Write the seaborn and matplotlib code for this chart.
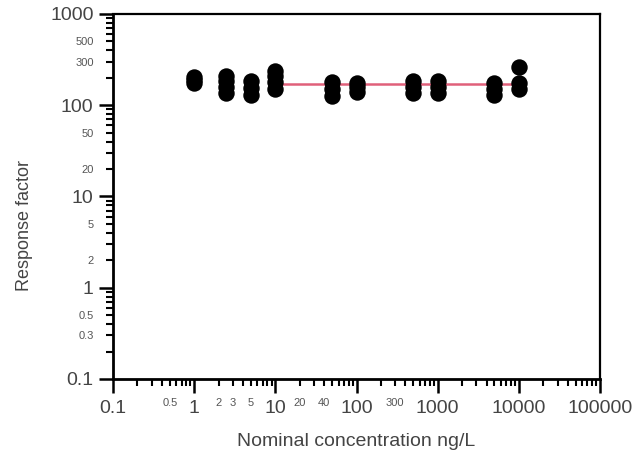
import numpy as np
import pandas as pd
import matplotlib
matplotlib.use("Agg")
import matplotlib.pyplot as plt
import matplotlib.ticker as mticker
import seaborn as sns

# Replicate response factors at each nominal concentration (ng/L)
conc_1 = [1, 1, 1]
rf_1 = [175, 190, 205]
conc_2_5 = [2.5, 2.5, 2.5, 2.5]
rf_2_5 = [135, 160, 185, 210]
conc_5 = [5, 5, 5]
rf_5 = [130, 155, 185]
conc_10 = [10, 10, 10, 10]
rf_10 = [150, 180, 210, 235]
conc_50 = [50, 50, 50]
rf_50 = [125, 150, 180]
conc_100 = [100, 100, 100]
rf_100 = [140, 160, 175]
conc_500 = [500, 500, 500]
rf_500 = [135, 160, 185]
conc_1000 = [1000, 1000, 1000]
rf_1000 = [135, 160, 185]
conc_5000 = [5000, 5000, 5000]
rf_5000 = [130, 150, 175]
conc_10000 = [10000, 10000, 10000]
rf_10000 = [150, 175, 265]

# Mean response factor over the calibration range
mean_range = [10, 10000]
mean_rf = [170, 170]

x_major = [0.1, 1, 10, 100, 1000, 10000, 100000]
x_minor_labels = {0.5: "0.5", 2: "2", 3: "3", 5: "5", 20: "20", 40: "40", 300: "300"}
y_major = [0.1, 1, 10, 100, 1000]
y_minor_labels = {0.3: "0.3", 0.5: "0.5", 2: "2", 5: "5", 20: "20", 50: "50", 300: "300", 500: "500"}

conc = (conc_1 + conc_2_5 + conc_5 + conc_10 + conc_50 + conc_100
        + conc_500 + conc_1000 + conc_5000 + conc_10000)
rf = (rf_1 + rf_2_5 + rf_5 + rf_10 + rf_50 + rf_100
      + rf_500 + rf_1000 + rf_5000 + rf_10000)
df = pd.DataFrame({"conc": conc, "rf": rf})
line_df = pd.DataFrame({"conc": mean_range, "rf": mean_rf})

sns.set_theme(style="white")
plt.rcParams["font.family"] = ["Liberation Sans", "DejaVu Sans"]

fig = plt.figure(figsize=(6.4, 4.66), dpi=100)
ax = fig.add_axes([0.1766, 0.1867, 0.7609, 0.7833])

ax.set_xscale("log")
ax.set_yscale("log")

sns.lineplot(data=line_df, x="conc", y="rf", ax=ax, color="#e0607a",
             linewidth=1.8, zorder=2)
sns.scatterplot(data=df, x="conc", y="rf", ax=ax, color="black",
                s=140, linewidth=0, zorder=3)

ax.set_xlim(0.1, 100000)
ax.set_ylim(0.1, 1000)

def fmt(v):
    return ("%g" % v)

ax.xaxis.set_major_locator(mticker.FixedLocator(x_major))
ax.xaxis.set_major_formatter(mticker.FixedFormatter([fmt(v) for v in x_major]))
xm = [d * k for d in [0.1, 1, 10, 100, 1000, 10000] for k in range(2, 10)]
ax.xaxis.set_minor_locator(mticker.FixedLocator(xm))
ax.xaxis.set_minor_formatter(mticker.FixedFormatter(
    [x_minor_labels.get(round(v, 6), "") for v in xm]))

ax.yaxis.set_major_locator(mticker.FixedLocator(y_major))
ax.yaxis.set_major_formatter(mticker.FixedFormatter([fmt(v) for v in y_major]))
ym = [d * k for d in [0.1, 1, 10, 100] for k in range(2, 10)]
ax.yaxis.set_minor_locator(mticker.FixedLocator(ym))
ax.yaxis.set_minor_formatter(mticker.FixedFormatter(
    [y_minor_labels.get(round(v, 6), "") for v in ym]))

for s in ["left", "bottom", "top", "right"]:
    ax.spines[s].set_visible(True)
    ax.spines[s].set_color("black")
ax.spines["left"].set_linewidth(2.0)
ax.spines["bottom"].set_linewidth(2.0)
ax.spines["top"].set_linewidth(1.6)
ax.spines["right"].set_linewidth(1.6)

ax.tick_params(axis="both", which="major", direction="out", length=10,
               width=1.8, color="black", labelsize=14, labelcolor="#444444",
               bottom=True, left=True)
ax.tick_params(axis="both", which="minor", direction="out", length=5,
               width=1.5, color="black", labelsize=8, labelcolor="#555555",
               bottom=True, left=True)
ax.tick_params(axis="x", which="major", pad=5)
ax.tick_params(axis="x", which="minor", pad=9)
ax.tick_params(axis="y", which="major", pad=4)
ax.tick_params(axis="y", which="minor", pad=9)

ax.set_xlabel("Nominal concentration ng/L", fontsize=14, color="#444444",
              labelpad=12)
ax.set_ylabel("Response factor", fontsize=13, color="#444444")
ax.yaxis.set_label_coords(-0.165, 0.42)
ax.grid(False)

fig.savefig("out.png", dpi=100)
